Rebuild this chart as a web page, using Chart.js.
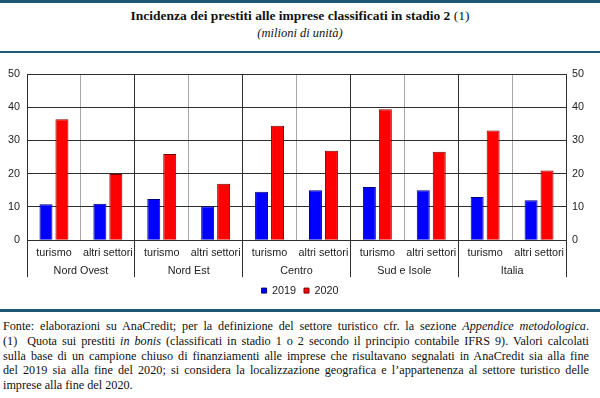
<!DOCTYPE html>
<html>
<head>
<meta charset="utf-8">
<script src="https://cdn.jsdelivr.net/npm/chart.js@4/dist/chart.umd.min.js"></script>
<style>
  body { margin: 0; background: #fff; }
  #page { position: relative; width: 600px; height: 398px; overflow: hidden; background: #fff; }
  .rule { position: absolute; left: 0; width: 600px; background: #1d5876; }
  #title { position: absolute; top: 8px; left: 0; width: 600px; text-align: center;
           font: bold 13.5px "Liberation Serif", serif; color: #111; }
  #title span { font-weight: normal; }
  #subtitle { position: absolute; top: 26px; left: 0; width: 600px; text-align: center;
              font: italic 12.5px "Liberation Serif", serif; color: #111; }
  #chartBox { position: absolute; top: 56px; left: 0; width: 600px; height: 250px; }
  #notes { position: absolute; top: 319px; left: 3px; width: 586px;
           font: 12.2px/14.8px "Liberation Serif", serif; color: #111; }
  #notes div { text-align: justify; text-align-last: justify; }
  #notes div.last { text-align-last: left; }
</style>
</head>
<body>
<div id="page">
  <div class="rule" style="top:0;height:3px"></div>
  <div id="title">Incidenza dei prestiti alle imprese classificati in stadio 2 <span>(1)</span></div>
  <div id="subtitle">(milioni di unità)</div>
  <div class="rule" style="top:51px;height:2px"></div>
  <div id="chartBox"><canvas id="chart"></canvas></div>
  <div class="rule" style="top:309px;height:3px"></div>
  <div id="notes">
    <div>Fonte: elaborazioni su AnaCredit; per la definizione del settore turistico cfr. la sezione <i>Appendice metodologica</i>.</div>
    <div>(1)&nbsp; Quota sui prestiti <i>in bonis</i> (classificati in stadio 1 o 2 secondo il principio contabile IFRS 9). Valori calcolati</div>
    <div>sulla base di un campione chiuso di finanziamenti alle imprese che risultavano segnalati in AnaCredit sia alla fine</div>
    <div>del 2019 sia alla fine del 2020; si considera la localizzazione geografica e l’appartenenza al settore turistico delle</div>
    <div class="last">imprese alla fine del 2020.</div>
  </div>
</div>
<script>
const sectors = ['turismo', 'altri settori', 'turismo', 'altri settori', 'turismo', 'altri settori',
                 'turismo', 'altri settori', 'turismo', 'altri settori'];
const areas = ['Nord Ovest', 'Nord Est', 'Centro', 'Sud e Isole', 'Italia'];
const values2019 = [10.8, 11.0, 12.4, 10.2, 14.6, 15.0, 16.0, 15.0, 13.0, 12.0];
const values2020 = [36.4, 19.9, 25.9, 17.0, 34.4, 26.9, 39.4, 26.6, 33.0, 21.0];
const yTicks = [0, 10, 20, 30, 40, 50];

const axisFont = { family: '"Liberation Sans", Arial, sans-serif', size: 10.8 };
const dark = '#2e2e2e';

new Chart(document.getElementById('chart'), {
  type: 'bar',
  data: {
    labels: sectors,
    datasets: [
      { label: '2019', data: values2019, backgroundColor: '#0000ff', borderColor: '#00007a', borderWidth: 1 },
      { label: '2020', data: values2020, backgroundColor: '#ff0000', borderColor: '#7a0000', borderWidth: 1 }
    ]
  },
  options: {
    responsive: true,
    maintainAspectRatio: false,
    animation: false,
    datasets: { bar: { categoryPercentage: 32 / 54, barPercentage: 13 / 16 } },
    layout: { padding: { top: 18, left: 0, right: 0, bottom: 0 } },
    plugins: {
      tooltip: { enabled: false },
      legend: {
        position: 'bottom',
        labels: { boxWidth: 5, boxHeight: 5, padding: 8, color: '#222', font: axisFont }
      }
    },
    scales: {
      x: {
        type: 'category',
        position: 'bottom',
        weight: 0,
        offset: true,
        grid: {
          offset: true,
          tickLength: 22,
          color: ctx => (ctx.index % 2 === 1 ? '#a8a8a8' : dark),
          tickColor: ctx => (ctx.index % 2 === 1 ? 'rgba(0,0,0,0)' : dark)
        },
        border: { display: true, color: dark },
        ticks: { padding: -16, color: '#222', font: axisFont, maxRotation: 0, autoSkip: false },
        afterFit: s => { s.height = 22; }
      },
      x2: {
        type: 'category',
        labels: areas,
        position: 'bottom',
        weight: 1,
        offset: true,
        grid: { offset: true, drawOnChartArea: false, tickLength: 15, tickColor: dark },
        border: { display: false },
        ticks: { padding: -13, color: '#222', font: axisFont, maxRotation: 0, autoSkip: false },
        afterFit: s => { s.height = 15; }
      },
      y: {
        position: 'left',
        min: 0, max: 50,
        afterBuildTicks: s => { s.ticks = yTicks.map(v => ({ value: v })); },
        grid: { color: dark, drawTicks: false },
        border: { display: true, color: dark },
        ticks: { padding: 7, color: '#222', font: axisFont },
        afterFit: s => { s.width = 27; }
      },
      y2: {
        position: 'right',
        min: 0, max: 50,
        afterBuildTicks: s => { s.ticks = yTicks.map(v => ({ value: v })); },
        grid: { drawOnChartArea: false, drawTicks: false },
        border: { display: true, color: dark },
        ticks: { padding: 6, color: '#222', font: axisFont },
        afterFit: s => { s.width = 34; }
      }
    }
  }
});
</script>
</body>
</html>
